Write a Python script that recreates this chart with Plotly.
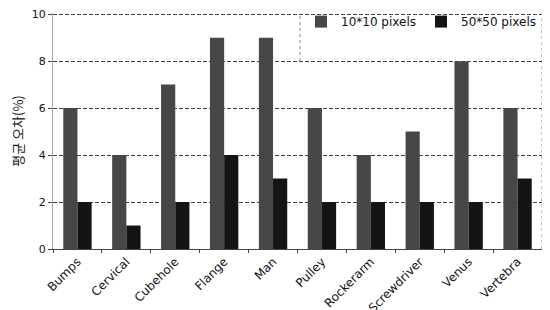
import plotly.graph_objects as go

categories = ["Bumps", "Cervical", "Cubehole", "Flange", "Man", "Pulley",
              "Rockerarm", "Screwdriver", "Venus", "Vertebra"]
series_names = ["10*10 pixels", "50*50 pixels"]
vals_10 = [6, 4, 7, 9, 9, 6, 4, 5, 8, 6]
vals_50 = [2, 1, 2, 4, 3, 2, 2, 2, 2, 3]
y_ticks = [0, 2, 4, 6, 8, 10]
y_title = "평균 오차(%)"

FONT = "DejaVu Sans"

fig = go.Figure()
fig.add_trace(go.Bar(x=categories, y=vals_10, name=series_names[0],
                     marker=dict(color="#474747", line=dict(width=0))))
fig.add_trace(go.Bar(x=categories, y=vals_50, name=series_names[1],
                     marker=dict(color="#141414", line=dict(width=0))))

# page body has an 8px margin, so the figure is 8px smaller and offset
fig.update_layout(
    width=542, height=302,
    margin=dict(l=45, r=8, t=5, b=61, autoexpand=False),
    paper_bgcolor="white", plot_bgcolor="white",
    barmode="group", bargap=0.42, bargroupgap=0,
    font=dict(family=FONT, size=11, color="#111"),
    legend=dict(orientation="h", x=1, xanchor="right", y=1.025, yanchor="top",
                bgcolor="rgba(255,255,255,0)", borderwidth=0,
                font=dict(size=12), itemwidth=30),
    xaxis=dict(
        automargin=False,
        tickangle=-45, tickson="boundaries", ticks="outside", ticklen=3,
        tickcolor="#444", showline=True, linecolor="#444", linewidth=1,
        tickfont=dict(size=12, family=FONT), showgrid=False,
    ),
    yaxis=dict(
        automargin=False,
        range=[0, 10.05], tickvals=y_ticks, ticks="outside", ticklen=4,
        tickcolor="#444", showline=True, linecolor="#aaa", linewidth=1,
        showgrid=True, gridcolor="#444", griddash="4px,2px", gridwidth=1,
        zeroline=False, tickfont=dict(size=11, family=FONT),
        ticklabeloverflow="allow",
        title=dict(text=y_title, font=dict(size=13,
                   family="Noto Sans CJK KR"), standoff=14),
    ),
)

# right border and legend box outline
fig.add_shape(type="line", xref="paper", yref="paper", x0=1, x1=1, y0=0, y1=1,
              line=dict(color="#888", width=1, dash="dot"))
fig.add_shape(type="line", xref="paper", yref="y", x0=0.505, x1=0.505, y0=8, y1=10,
              line=dict(color="#888", width=1, dash="dot"))

fig.write_html("out.html")
